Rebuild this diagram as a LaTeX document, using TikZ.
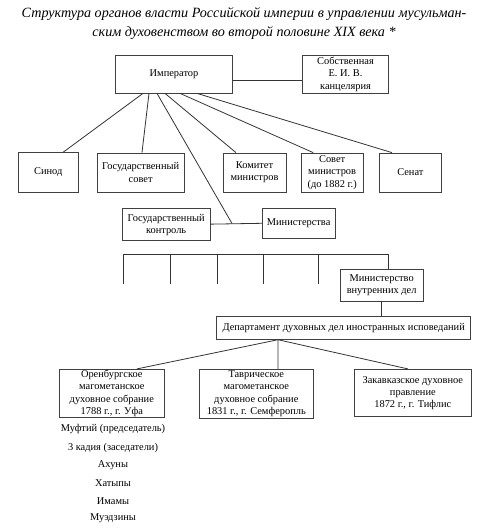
\documentclass[tikz,border=0pt]{standalone}
\usepackage{fontspec}
\setmainfont{Liberation Serif}
\begin{document}
\begin{tikzpicture}[x=0.75pt,y=-0.75pt,
  box/.style={draw=black!75,line width=0.6pt,inner sep=0pt,align=center,
    font=\fontsize{7.8}{9.2}\selectfont},
  conn/.style={draw=black!80,line width=0.6pt},
  plain/.style={inner sep=0pt,font=\fontsize{7.8}{9.2}\selectfont}]
\useasboundingbox (0,0) rectangle (500,529);
% title
\node[inner sep=0pt,align=center,font=\fontsize{10.6}{14.25}\selectfont\itshape] (title) at (244,23.5)
  {Структура органов власти Российской империи в управлении мусульман-\\ским духовенством во второй половине XIX века *};
% boxes
\node[box,minimum width=87.75pt,minimum height=28.1pt] (imp) at (174,74.25) {Император};
\node[box,minimum width=64.5pt,minimum height=28.1pt] (sob) at (345.5,74.25) {Собственная\\Е. И. В.\\канцелярия};
\node[box,minimum width=45.4pt,minimum height=29.4pt] (sinod) at (48.25,172.4) {Синод};
\node[box,minimum width=65.5pt,minimum height=29.25pt] (gossov) at (140.65,172.5) {Государственный\\совет};
\node[box,minimum width=47.25pt,minimum height=29.25pt] (kom) at (254.5,172.5) {Комитет\\министров};
\node[box,minimum width=46.7pt,minimum height=29.25pt] (sovmin) at (332.15,172.5) {Совет\\министров\\(до 1882 г.)};
\node[box,minimum width=47pt,minimum height=29.25pt] (senat) at (410.35,172.5) {Сенат};
\node[box,minimum width=65.8pt,minimum height=23.8pt,text depth=-2pt] (goskon) at (166.15,224.15) {Государственный\\контроль};
\node[box,minimum width=54.5pt,minimum height=22.5pt] (minist) at (298.65,223.3) {Министерства};
\node[box,minimum width=62.5pt,minimum height=24pt] (mvd) at (381.65,285) {Министерство\\внутренних дел};
\node[box,minimum width=190.5pt,minimum height=17.5pt] (dep) at (343.7,327.65) {Департамент духовных дел иностранных исповеданий};
\node[box,minimum width=78.75pt,minimum height=36pt] (oren) at (111.8,393.3) {Оренбургское\\магометанское\\духовное собрание\\1788 г., г. Уфа};
\node[box,minimum width=85.5pt,minimum height=36.75pt] (tavr) at (256.3,393.8) {Таврическое\\магометанское\\духовное собрание\\1831 г., г. Семферопль};
\node[box,minimum width=88.3pt,minimum height=35.5pt] (zak) at (412.85,393) {Закавказское духовное\\правление\\1872 г., г. Тифлис};
% list
\node[plain] (l1) at (113,429) {Муфтий (председатель)};
\node[plain] (l2) at (113,447.7) {3 кадия (заседатели)};
\node[plain] (l3) at (113,465) {Ахуны};
\node[plain] (l4) at (113,483) {Хатыпы};
\node[plain] (l5) at (113,501) {Имамы};
\node[plain] (l6) at (113,518) {Муэдзины};
% connectors
\draw[conn] ([yshift=-4.5pt]imp.east) -- ([yshift=-4.5pt]sob.west);
\draw[conn] ([xshift=-23.25pt]imp.south) -- ([xshift=11pt]sinod.north);
\draw[conn] ([xshift=-18.75pt]imp.south) -- ([xshift=1pt]gossov.north);
\draw[conn] ([xshift=-6.75pt]imp.south) -- ([xshift=-13.9pt]kom.north);
\draw[conn] ([xshift=4.5pt]imp.south) -- ([xshift=-14.25pt]sovmin.north);
\draw[conn] ([xshift=17.25pt]imp.south) -- ([xshift=-13.8pt]senat.north);
\coordinate (J) at (232,223.5);
\draw[conn] (goskon.east) -- (minist.west);
\draw[conn] ([xshift=-12.75pt]imp.south) -- (J);
% bus
\coordinate (b1) at (123,254);
\coordinate (b2) at (170,254);
\coordinate (b3) at (217,254);
\coordinate (b4) at (263,254);
\coordinate (b5) at (318,254);
\coordinate (b6) at (388,254);
\coordinate (e1) at (123,284);
\coordinate (e2) at (170,284);
\coordinate (e3) at (217,284);
\coordinate (e4) at (263,284);
\coordinate (e5) at (318,284);
\draw[conn] (b1) -- (b6);
\draw[conn] (b1) -- (e1);
\draw[conn] (b2) -- (e2);
\draw[conn] (b3) -- (e3);
\draw[conn] (b4) -- (e4);
\draw[conn] (b5) -- (e5);
\draw[conn] (b6) -- (b6 |- mvd.north);
\draw[conn] (mvd.south) -- (mvd.south |- dep.north);
\coordinate (D) at ([xshift=-49.3pt]dep.south);
\draw[conn] (D) -- ([xshift=18.9pt]oren.north);
\draw[conn] (D) -- ([xshift=16.3pt]tavr.north);
\draw[conn] (D) -- ([xshift=-3.6pt]zak.north);
\end{tikzpicture}
\end{document}
